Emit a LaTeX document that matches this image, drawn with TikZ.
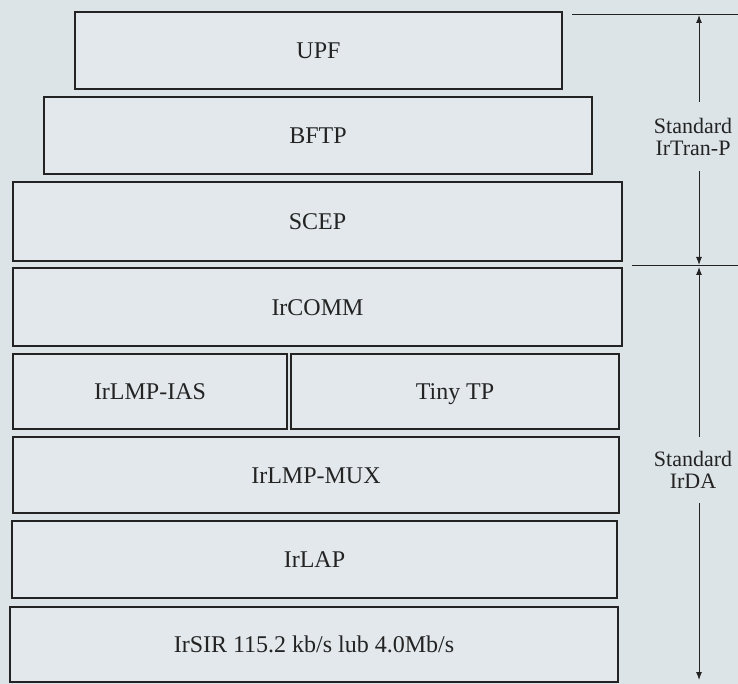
\documentclass[tikz,border=0pt]{standalone}
\usepackage{fontspec}
\setmainfont{Liberation Serif}
\usetikzlibrary{arrows.meta}
\definecolor{paper}{RGB}{221,228,231}
\definecolor{boxfill}{RGB}{226,232,235}
\definecolor{ink}{RGB}{35,35,35}
\begin{document}
\begin{tikzpicture}[x=1pt,y=-1pt,
  layer/.style={draw=ink, line width=2.4pt, fill=boxfill, inner sep=0pt,
    text=ink, text height=16pt, text depth=0pt, font=\fontsize{24}{24}\selectfont},
  stdlabel/.style={align=center, inner sep=0pt, text=ink,
    font=\fontsize{22}{22}\selectfont},
  arr/.style={draw=ink, line width=1pt, -{Latex[length=8pt,width=6pt]}},
  rulex/.style={draw=ink, line width=1pt}]
\fill[paper] (0,0) rectangle (738,684);
\useasboundingbox (0,0) rectangle (738,684);

\node[layer, minimum width=487pt, minimum height=77pt] (upf)   at (318.5,50.5) {UPF};
\node[layer, minimum width=548pt, minimum height=77pt] (bftp)  at (318,135.5)  {BFTP};
\node[layer, minimum width=609pt, minimum height=79pt] (scep)  at (317.5,221.5) {SCEP};
\node[layer, minimum width=609pt, minimum height=78pt] (comm)  at (317.5,307)  {IrCOMM};
\node[layer, minimum width=274pt, minimum height=75pt] (ias)   at (150,391.5)  {IrLMP-IAS};
\node[layer, minimum width=328pt, minimum height=75pt] (tiny)  at (455,391.5)  {Tiny TP};
\node[layer, minimum width=606pt, minimum height=76pt] (mux)   at (316,475)    {IrLMP-MUX};
\node[layer, minimum width=605pt, minimum height=77pt] (lap)   at (314.5,559.5) {IrLAP};
\node[layer, minimum width=608pt, minimum height=75pt] (sir)   at (314,644.5)  {IrSIR 115.2 kb/s lub 4.0Mb/s};

\node[stdlabel, minimum height=69pt] (tranp) at (693,136.5) {Standard\\IrTran-P};
\node[stdlabel, minimum height=66pt] (irda)  at (693,470)   {Standard\\IrDA};

\coordinate (topend)  at (699,15);
\coordinate (midup)   at (699,265);
\coordinate (middown) at (699,267);
\coordinate (botend)  at (699,680);

\draw[rulex] (572,15) -- (738,15);
\draw[rulex] (632,266) -- (738,266);

\draw[arr] (tranp.north -| topend) -- (topend);
\draw[arr] (tranp.south -| topend) -- (midup);
\draw[arr] (irda.north -| topend) -- (middown);
\draw[arr] (irda.south -| topend) -- (botend);
\end{tikzpicture}
\end{document}
